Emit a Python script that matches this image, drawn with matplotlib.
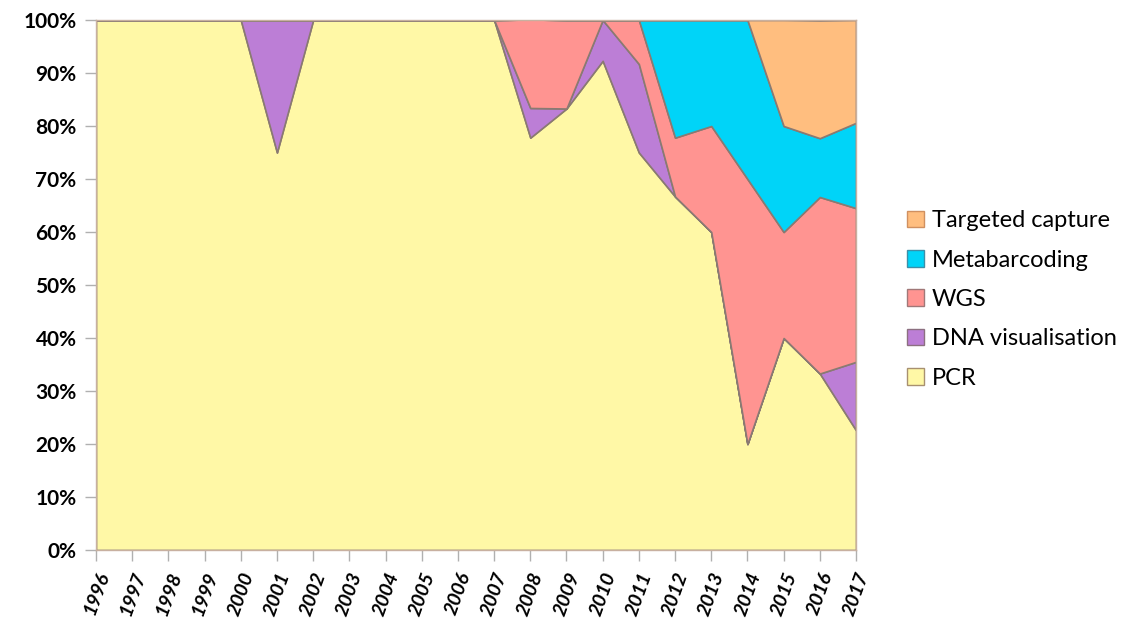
import matplotlib.pyplot as plt
import numpy as np
from matplotlib.patches import Patch

# years and share of studies (%) per method
years = list(range(1996, 2018))
pcr = [100, 100, 100, 100, 100, 75, 100, 100, 100, 100, 100, 100,
       77.8, 83.3, 92.3, 75, 66.7, 60, 20, 40, 33.3, 22.6]
dna_vis = [0, 0, 0, 0, 0, 25, 0, 0, 0, 0, 0, 0,
           5.6, 0, 7.7, 16.7, 0, 0, 0, 0, 0, 12.9]
wgs = [0, 0, 0, 0, 0, 0, 0, 0, 0, 0, 0, 0,
       16.7, 16.7, 0, 8.3, 11.1, 20, 50, 20, 33.3, 29.0]
metabarcoding = [0, 0, 0, 0, 0, 0, 0, 0, 0, 0, 0, 0,
                 0, 0, 0, 0, 22.2, 20, 30, 20, 11.1, 16.1]
targeted = [0, 0, 0, 0, 0, 0, 0, 0, 0, 0, 0, 0,
            0, 0, 0, 0, 0, 0, 0, 20, 22.2, 19.4]

names = ["PCR", "DNA visualisation", "WGS", "Metabarcoding", "Targeted capture"]
colores = ["#FFF8A6", "#BC7ED6", "#FF9491", "#00D4F8", "#FFBE7F"]
bordes = ["#A89070", "#8C7080", "#A07878", "#3C8FA8", "#D09060"]

plt.rcParams['font.family'] = ['Lato', 'DejaVu Sans']

fig = plt.figure(figsize=(11.21, 6.24), dpi=100)
ax = fig.add_axes([96/1121, 74/624, 760/1121, 530/624])

series = [pcr, dna_vis, wgs, metabarcoding, targeted]
polys = ax.stackplot(years, *series, colors=colores, edgecolor="#8A7A72", linewidth=1.2)

ax.set_xlim(1996, 2017)
ax.set_ylim(0, 100)
ax.set_yticks(np.arange(0, 101, 10))
ax.set_yticklabels([str(v) + "%" for v in range(0, 101, 10)], fontsize=15, fontweight="bold")
ax.set_xticks(years)
ax.set_xticklabels([str(y) for y in years], rotation=70, ha="right", va="top",
                   rotation_mode="anchor", fontsize=14, fontstyle="italic", fontweight="bold")
ax.tick_params(axis="both", color="#B0B0B0", length=8, width=1)
ax.tick_params(axis="y", pad=6)
ax.tick_params(axis="x", pad=6)
for s in ax.spines.values():
    s.set_color("#C8B0A0")
    s.set_linewidth(1)

handles = [Patch(facecolor=colores[i], edgecolor=bordes[i], label=names[i]) for i in range(5)]
handles = handles[::-1]
fig.legend(handles=handles, loc="center left", bbox_to_anchor=(886/1121, 0.52),
           frameon=False, fontsize=17, handlelength=0.7, handleheight=0.7,
           handletextpad=0.35, labelspacing=0.78)

plt.savefig("out.png", dpi=100)
